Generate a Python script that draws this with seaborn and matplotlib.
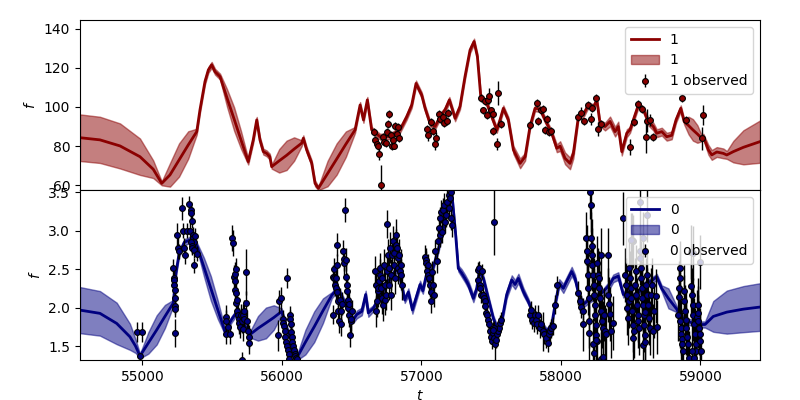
import numpy as np
import matplotlib
matplotlib.use('Agg')
import matplotlib.pyplot as plt
import seaborn as sns

# ---- channel 1 (top): posterior mean / band half width on a time grid
t1_grid = [54552, 54695, 54839, 54982, 55077, 55138, 55197, 55262, 55328, 55389,
           55412, 55448, 55472, 55496, 55520, 55556, 55606, 55657, 55707, 55758,
           55794, 55819, 55842, 55866, 55890, 55913, 55926, 55980, 56033, 56087,
           56141, 56153, 56177, 56213, 56237, 56261, 56327, 56392, 56458, 56524,
           56560, 56584, 56612, 56643, 56703, 56774, 56846, 56894, 56930, 56961,
           57002, 57026, 57061, 57097, 57133, 57169, 57200, 57241, 57276, 57312,
           57348, 57377, 57401, 57425, 57468, 57504, 57540, 57563, 57587, 57623,
           57659, 57707, 57743, 57778, 57814, 57850, 57886, 57934, 57970, 57994,
           58029, 58065, 58089, 58125, 58160, 58196, 58232, 58257, 58280, 58316,
           58352, 58388, 58411, 58436, 58472, 58495, 58519, 58555, 58591, 58626,
           58662, 58687, 58723, 58758, 58794, 58825, 58859, 58883, 58915, 58946,
           58978, 59009, 59021, 59057, 59081, 59117, 59164, 59189, 59236, 59308,
           59427]
m1 = [84.3, 83.2, 80.1, 74.6, 68.2, 61.0, 65.3, 72.9, 80.6, 87.4,
      98.5, 113.0, 118.9, 121.5, 118.0, 115.5, 104.6, 93.8, 83.0, 72.1,
      83.2, 93.4, 83.2, 77.2, 76.3, 74.6, 69.5, 72.5, 75.3, 78.5,
      81.5, 84.0, 78.1, 71.3, 61.0, 58.5, 66.0, 73.4, 81.0, 88.3,
      101.0, 93.4, 103.6, 88.3, 84.8, 85.0, 88.3, 95.0, 101.0, 112.0,
      106.0, 99.3, 91.7, 90.0, 95.0, 98.5, 103.6, 94.2, 100.2, 115.5,
      129.0, 133.4, 125.7, 105.3, 102.0, 95.0, 88.3, 93.4, 99.3, 93.4,
      78.1, 71.2, 74.6, 90.0, 99.3, 99.0, 93.4, 86.6, 78.9, 80.0,
      73.8, 71.2, 76.3, 95.0, 96.0, 101.0, 99.8, 103.6, 91.7, 90.0,
      92.6, 87.4, 90.0, 77.2, 86.6, 88.3, 93.4, 101.0, 98.5, 92.6,
      90.0, 86.6, 87.4, 84.8, 85.5, 93.4, 99.3, 92.6, 90.5, 88.3,
      86.2, 84.0, 84.8, 78.1, 75.5, 77.0, 76.3, 75.5, 77.2, 79.4,
      82.3]
hw1 = [11.9, 11.8, 11.5, 9.3, 4.5, 1.0, 6.0, 8.5, 7.0, 1.5,
       1.5, 1.5, 1.5, 1.5, 1.5, 1.5, 4.5, 6.0, 4.5, 1.5,
       1.5, 1.5, 1.5, 1.5, 1.5, 1.5, 1.0, 6.0, 7.5, 6.0,
       1.5, 1.5, 1.5, 1.5, 1.5, 1.0, 6.5, 8.0, 6.5, 1.5,
       1.5, 1.5, 1.5, 1.5, 1.5, 1.5, 1.5, 1.5, 1.5, 1.5,
       1.5, 1.5, 1.5, 1.5, 1.5, 1.5, 1.5, 1.5, 1.5, 1.5,
       1.5, 1.5, 1.5, 1.5, 1.5, 1.5, 1.5, 1.5, 1.5, 1.5,
       2.0, 2.5, 2.0, 1.5, 1.5, 1.5, 1.5, 1.5, 2.0, 2.5,
       3.0, 3.0, 2.5, 1.5, 1.5, 1.5, 1.5, 1.5, 1.5, 2.0,
       2.5, 2.5, 2.5, 2.0, 2.0, 1.5, 1.5, 1.5, 1.5, 2.0,
       2.0, 2.0, 2.0, 2.0, 2.0, 1.5, 1.5, 1.5, 4.5, 5.5,
       4.5, 1.5, 1.5, 2.5, 2.5, 2.5, 2.5, 2.0, 5.5, 8.7,
       10.8]

# ---- channel 1 observations
t1_obs = [56660, 56667, 56679, 56691, 56698, 56712, 56722, 56732, 56746, 56755,
          56760, 56769, 56780, 56787, 56798, 56805, 56813, 56823, 56834, 56841,
          57038, 57049, 57069, 57081, 57099, 57104, 57126, 57133, 57152, 57162,
          57185, 57193,
          57427, 57443, 57456, 57468, 57479, 57487, 57497, 57515, 57511, 57544,
          57551, 57570,
          57778, 57831, 57838, 57855, 57874, 57902, 57888, 57917, 57931,
          58125, 58144, 58166, 58196, 58214, 58225, 58252, 58268, 58285,
          58495, 58524, 58555, 58584, 58610, 58619, 58639, 58658,
          58866, 58895, 59009, 59021]
f1_obs = [87.1, 83.2, 81.2, 79.9, 75.8, 60.2, 84.8, 82.3, 81.8, 87.4,
          91.3, 96.4, 85.7, 80.1, 83.2, 80.3, 90.3, 86.2, 89.6, 84.0,
          88.6, 85.7, 92.3, 87.9, 81.2, 84.0, 96.4, 93.7, 95.0, 92.0,
          93.0, 96.8,
          104.4, 98.2, 102.8, 96.0, 103.6, 105.6, 98.2, 96.3, 87.8, 81.0,
          107.0, 91.2,
          90.8, 102.2, 92.9, 98.2, 98.9, 93.7, 88.3, 87.0, 87.8,
          95.0, 96.8, 92.6, 101.0, 93.9, 99.3, 104.4, 88.6, 91.2,
          79.4, 92.1, 101.5, 98.9, 84.5, 93.0, 93.4, 84.5,
          104.4, 93.4, 84.0, 96.0]
e1_obs = [2, 2, 2, 2, 3, 10, 2, 2, 2, 2,
          2, 2, 2, 2, 2, 2, 2, 2, 2, 2,
          2, 3, 2, 2, 3, 3, 2, 2, 2, 2,
          2, 2,
          2, 2, 2, 2, 2, 4, 2, 2, 2, 3,
          6, 2,
          2, 2, 2, 2, 2, 2, 2, 2, 2,
          2, 3, 2, 2, 3, 2, 2, 3.5, 2,
          4, 2, 2, 2, 8, 6, 3, 2,
          2, 2, 6, 5]

# ---- channel 0 (bottom): posterior mean / band half width
t0_grid = [54552, 54695, 54815, 54910, 54950, 54982, 55042, 55102, 55161, 55221,
           55240, 55262, 55300, 55340, 55389, 55440, 55490, 55540, 55591, 55640,
           55680, 55720, 55771, 55828, 55885, 55941, 55998, 56030, 56060, 56105,
           56168, 56231, 56294, 56357, 56400, 56440, 56480, 56511, 56536, 56572,
           56600, 56619, 56655, 56700, 56751, 56800, 56830, 56858, 56880, 56906,
           56935, 56965, 56990, 57010, 57038, 57080, 57120, 57160, 57190, 57217,
           57245, 57264, 57288, 57312, 57336, 57372, 57396, 57415, 57444, 57479,
           57515, 57551, 57575, 57611, 57647, 57671, 57695, 57730, 57766, 57814,
           57862, 57898, 57934, 57958, 57988, 58017, 58041, 58077, 58101, 58125,
           58160, 58200, 58250, 58300, 58350, 58375, 58411, 58447, 58480, 58520,
           58560, 58600, 58650, 58687, 58722, 58770, 58830, 58850, 58900, 58950,
           59000, 59033, 59092, 59189, 59308, 59427]
m0 = [1.967, 1.925, 1.794, 1.62, 1.50, 1.37, 1.54, 1.71, 1.885, 2.06,
      2.45, 2.70, 2.85, 2.88, 2.81, 2.53, 2.25, 1.97, 1.69, 1.85,
      1.95, 1.80, 1.65, 1.73, 1.80, 1.87, 1.95, 1.75, 1.60, 1.34,
      1.55, 1.75, 1.96, 2.16, 2.25, 2.10, 1.95, 1.84, 1.91, 1.95,
      2.17, 1.93, 1.99, 2.15, 2.30, 2.45, 2.50, 2.30, 2.10, 2.20,
      1.97, 2.15, 2.30, 2.22, 2.45, 2.50, 2.75, 3.05, 3.35, 3.50,
      2.95, 2.51, 2.45, 2.38, 2.30, 2.12, 2.25, 2.47, 2.38, 2.12,
      1.86, 1.69, 1.82, 2.17, 2.36, 2.30, 2.38, 2.21, 2.08, 1.86,
      1.78, 1.69, 1.78, 2.04, 2.32, 2.25, 2.34, 2.47, 2.38, 2.19,
      2.04, 2.10, 2.15, 2.20, 2.30, 2.38, 2.41, 2.17, 2.20, 2.15,
      2.20, 2.30, 2.35, 2.40, 2.25, 2.12, 1.98, 1.90, 1.82, 1.80,
      1.78, 1.78, 1.885, 1.941, 1.98, 2.007]
hw0 = [0.30, 0.29, 0.27, 0.17, 0.09, 0.03, 0.14, 0.19, 0.15, 0.04,
       0.04, 0.04, 0.04, 0.04, 0.04, 0.12, 0.16, 0.12, 0.04, 0.04,
       0.04, 0.04, 0.04, 0.16, 0.20, 0.16, 0.04, 0.04, 0.04, 0.03,
       0.16, 0.20, 0.16, 0.04, 0.04, 0.04, 0.04, 0.04, 0.05, 0.05,
       0.05, 0.05, 0.04, 0.04, 0.04, 0.04, 0.04, 0.04, 0.04, 0.05,
       0.05, 0.05, 0.05, 0.04, 0.04, 0.04, 0.04, 0.04, 0.04, 0.04,
       0.04, 0.04, 0.05, 0.05, 0.05, 0.05, 0.04, 0.04, 0.04, 0.04,
       0.04, 0.04, 0.05, 0.05, 0.06, 0.06, 0.06, 0.05, 0.04, 0.04,
       0.04, 0.04, 0.04, 0.04, 0.05, 0.06, 0.06, 0.06, 0.05, 0.04,
       0.04, 0.04, 0.04, 0.04, 0.05, 0.05, 0.05, 0.04, 0.04, 0.04,
       0.04, 0.04, 0.04, 0.04, 0.04, 0.13, 0.04, 0.04, 0.04, 0.04,
       0.04, 0.04, 0.20, 0.28, 0.30, 0.31]

# ---- channel 0 observations
t0_obs = [54963, 54982, 54999,
          55221, 55224, 55226, 55228, 55230, 55231, 55232, 55234, 55236, 55247,
          55255, 55262, 55285, 55290, 55300, 55305, 55320, 55336, 55345, 55350,
          55355, 55340, 55360, 55365, 55368, 55348, 55352, 55358, 55372, 55370,
          55380, 55389,
          55599, 55600, 55602, 55610, 55625, 55640, 55648, 55655, 55660, 55662,
          55665, 55668, 55670, 55672, 55676, 55680, 55684, 55690, 55695, 55700,
          55705, 55712, 55718, 55722, 55728, 55730, 55740, 55745, 55750, 55755,
          55760, 55765, 55711,
          55974, 55981, 55990, 56005, 56010, 56015, 56020, 56025, 56030, 56038,
          56035, 56040, 56048, 56055, 56058, 56062, 56065, 56070, 56075, 56080,
          56085, 56090, 56095, 56100, 56110, 56050,
          56364, 56368, 56372, 56376, 56380, 56384, 56388, 56392, 56395, 56398,
          56400, 56405, 56410, 56415, 56420, 56425, 56430, 56438, 56443, 56448,
          56452, 56456, 56460, 56463, 56467, 56472, 56476, 56480, 56484, 56488,
          56492, 56496, 56500,
          56667, 56672, 56676, 56680, 56685, 56690, 56695, 56700, 56705, 56710,
          56715, 56720, 56725, 56730, 56735, 56740, 56745, 56750, 56755, 56760,
          56765, 56770, 56775, 56780, 56785, 56790, 56795, 56800, 56805, 56810,
          56815, 56820, 56825, 56830, 56835, 56840, 56845, 56850, 56855, 56860,
          57026, 57030, 57035, 57040, 57045, 57050, 57055, 57060, 57065, 57070,
          57075, 57085, 57090, 57100, 57110, 57118, 57125, 57130, 57135, 57140,
          57148, 57155, 57162, 57168, 57175, 57185, 57195, 57200, 57210, 57215,
          57222, 57205,
          57522,
          57403, 57408, 57412, 57418, 57422, 57428, 57433, 57440, 57445, 57452,
          57458, 57462, 57468, 57475, 57482, 57490, 57498, 57505, 57512, 57520,
          57528, 57535, 57542, 57550, 57557, 57565, 57572, 57520, 57510,
          57778, 57785, 57795, 57805, 57812, 57820, 57828, 57835, 57850, 57860,
          57868, 57880, 57895, 57905, 57912, 57922, 57930, 57940, 57958, 57975,
          58125, 58135, 58145, 58155, 58160, 58180, 58185, 58188, 58192, 58195,
          58198, 58200, 58203, 58210, 58215, 58212, 58220, 58222, 58226, 58230,
          58234, 58238, 58242, 58246, 58250, 58254, 58258, 58232, 58240, 58248,
          58262, 58266, 58270, 58275, 58280, 58285, 58290, 58295, 58300, 58308,
          58315, 58325, 58335, 58340, 58345, 58350, 58360, 58370, 58290, 58305,
          58443,
          58460, 58465, 58470, 58475, 58480, 58485, 58490, 58495, 58500, 58505,
          58510, 58515, 58520, 58525, 58530, 58535, 58540, 58545, 58550, 58555,
          58560, 58565, 58568, 58572, 58576, 58580, 58584, 58588, 58592, 58596,
          58600, 58605, 58610, 58615, 58620, 58625, 58632, 58640, 58648, 58655,
          58590, 58520, 58510, 58500, 58567, 58620, 58585, 58600, 58660, 58670,
          58680, 58690,
          58842, 58845, 58848, 58850, 58853, 58856, 58860, 58863, 58866, 58870,
          58874, 58880, 58885, 58890, 58895, 58900, 58905, 58910, 58915, 58930,
          58935, 58940, 58945, 58950, 58955, 58960, 58965, 58970, 58975, 58980,
          58985, 58990, 58995, 59000, 58985, 59005, 58940, 58955, 59000, 58949]
f0_obs = [1.68, 1.37, 1.68,
          2.51, 2.39, 2.36, 2.30, 2.23, 2.13, 2.02, 1.98, 1.67, 2.95,
          2.78, 2.73, 3.29, 3.00, 2.78, 2.69, 3.00, 3.35, 3.27, 3.23,
          3.13, 3.00, 2.95, 2.90, 2.85, 2.85, 2.80, 2.78, 2.75, 2.55,
          2.93, 2.70,
          1.88, 1.82, 1.65, 1.75, 1.65, 2.90, 2.84, 2.40, 2.35, 2.44,
          2.23, 2.19, 2.50, 2.06, 1.96, 2.10, 1.90, 1.85, 1.80, 1.75,
          1.90, 1.82, 1.90, 1.72, 1.85, 1.95, 2.46, 2.06, 1.82, 1.70,
          1.62, 1.54, 1.32,
          1.64, 2.08, 2.12, 1.85, 1.80, 1.76, 1.70, 1.62, 1.55, 2.38,
          1.50, 1.45, 1.40, 1.90, 1.85, 1.78, 1.68, 1.62, 1.55, 1.50,
          1.45, 1.40, 1.37, 1.34, 1.33, 1.33,
          1.91, 2.40, 2.50, 2.38, 2.30, 2.25, 2.38, 2.82, 2.55, 2.20,
          2.08, 1.95, 1.82, 2.10, 1.78, 1.96, 2.05, 2.73, 2.63, 2.58,
          3.27, 2.62, 2.40, 2.30, 2.22, 2.10, 1.99, 2.05, 1.90, 1.64,
          1.82, 1.85, 1.95,
          2.47, 1.95, 2.30, 2.08, 2.21, 2.25, 2.34, 2.51, 2.43, 2.25,
          2.12, 2.38, 2.03, 2.56, 2.30, 2.10, 2.17, 2.47, 3.09, 2.69,
          2.51, 2.30, 2.78, 2.43, 2.17, 2.69, 2.86, 2.56, 2.71, 2.38,
          2.95, 2.82, 2.78, 2.64, 2.51, 2.69, 2.47, 2.56, 2.43, 2.30,
          2.66, 2.62, 2.58, 2.48, 2.55, 2.42, 2.38, 2.29, 2.20, 2.08,
          2.46, 2.29, 2.16, 2.73, 2.60, 2.86, 3.03, 2.94, 3.16, 3.25,
          2.99, 3.27, 3.34, 3.12, 3.20, 3.38, 3.47, 3.29, 3.51, 3.16,
          3.07, 3.42,
          3.11,
          2.49, 2.36, 2.51, 2.30, 2.25, 2.16, 2.47, 2.16, 2.12, 2.08,
          2.02, 1.93, 1.91, 1.84, 1.78, 1.69, 1.62, 1.56, 1.67, 1.60,
          1.52, 1.58, 1.65, 1.69, 1.73, 1.80, 1.84, 1.73, 1.71,
          1.91, 1.97, 1.84, 1.80, 1.91, 1.84, 1.78, 1.91, 1.73, 1.78,
          1.69, 1.65, 1.60, 1.54, 1.65, 1.69, 1.73, 1.76, 2.04, 2.29,
          2.19, 2.08, 2.01, 1.95, 1.78, 2.90, 2.73, 2.60, 2.43, 2.26,
          2.12, 1.67, 1.82, 3.50, 3.34, 2.90, 2.80, 2.69, 2.56, 2.43,
          2.30, 2.17, 2.04, 1.91, 1.77, 1.64, 1.56, 1.52, 1.41, 1.58,
          2.58, 2.43, 2.26, 2.38, 2.12, 2.69, 1.95, 1.82, 1.73, 1.91,
          1.69, 1.65, 2.68, 2.16, 2.05, 1.92, 1.70, 1.80, 1.33, 1.36,
          3.16,
          2.42, 2.29, 2.16, 1.99, 1.86, 2.08, 2.51, 2.38, 2.25, 2.12,
          1.95, 1.77, 1.60, 1.69, 2.29, 2.47, 2.16, 2.03, 1.90, 1.82,
          1.73, 2.73, 2.64, 2.51, 2.38, 2.25, 2.12, 2.03, 1.90, 1.77,
          1.64, 1.94, 2.29, 2.42, 2.16, 2.03, 1.86, 1.73, 2.16, 2.29,
          2.90, 2.86, 2.88, 2.88, 3.38, 3.20, 1.51, 1.55, 1.70, 1.95,
          2.15, 1.75,
          1.91, 2.25, 2.14, 2.51, 2.38, 1.82, 1.73, 1.65, 1.59, 1.52,
          1.43, 2.21, 2.08, 1.95, 1.84, 1.73, 1.62, 1.52, 1.35, 2.72,
          2.28, 2.17, 2.04, 1.91, 1.78, 1.65, 1.52, 1.43, 1.88, 1.93,
          1.82, 1.73, 1.65, 1.56, 2.03, 1.43, 1.43, 1.35, 2.59, 2.71]
e0_obs = [0.13, 0.04, 0.13,
          0.12, 0.10, 0.10, 0.10, 0.10, 0.10, 0.10, 0.10, 0.18, 0.15,
          0.15, 0.10, 0.15, 0.10, 0.12, 0.12, 0.10, 0.10, 0.10, 0.10,
          0.10, 0.10, 0.10, 0.10, 0.10, 0.10, 0.10, 0.10, 0.10, 0.10,
          0.10, 0.10,
          0.15, 0.15, 0.12, 0.12, 0.12, 0.17, 0.17, 0.15, 0.15, 0.15,
          0.15, 0.15, 0.15, 0.15, 0.15, 0.15, 0.15, 0.15, 0.15, 0.15,
          0.15, 0.15, 0.15, 0.15, 0.15, 0.15, 0.30, 0.15, 0.15, 0.15,
          0.15, 0.15, 0.10,
          0.20, 0.15, 0.15, 0.12, 0.12, 0.12, 0.12, 0.12, 0.12, 0.13,
          0.12, 0.12, 0.12, 0.12, 0.12, 0.12, 0.12, 0.12, 0.12, 0.12,
          0.12, 0.12, 0.12, 0.12, 0.12, 0.12,
          0.12, 0.15, 0.15, 0.15, 0.15, 0.15, 0.15, 0.15, 0.15, 0.15,
          0.15, 0.15, 0.15, 0.15, 0.15, 0.15, 0.15, 0.15, 0.15, 0.15,
          0.15, 0.15, 0.15, 0.15, 0.15, 0.15, 0.15, 0.15, 0.15, 0.15,
          0.15, 0.15, 0.15,
          0.20, 0.20, 0.20, 0.20, 0.20, 0.20, 0.20, 0.20, 0.20, 0.20,
          0.20, 0.20, 0.20, 0.20, 0.20, 0.20, 0.20, 0.20, 0.18, 0.20,
          0.20, 0.20, 0.20, 0.20, 0.20, 0.20, 0.20, 0.20, 0.20, 0.20,
          0.20, 0.20, 0.20, 0.20, 0.20, 0.20, 0.20, 0.20, 0.20, 0.20,
          0.15, 0.15, 0.15, 0.15, 0.15, 0.15, 0.15, 0.15, 0.15, 0.15,
          0.15, 0.15, 0.15, 0.15, 0.15, 0.15, 0.15, 0.15, 0.15, 0.15,
          0.15, 0.15, 0.15, 0.15, 0.15, 0.15, 0.15, 0.15, 0.15, 0.15,
          0.15, 0.15,
          0.42,
          0.10, 0.10, 0.10, 0.10, 0.10, 0.10, 0.10, 0.10, 0.10, 0.10,
          0.10, 0.10, 0.10, 0.10, 0.10, 0.10, 0.10, 0.10, 0.10, 0.10,
          0.20, 0.10, 0.10, 0.10, 0.10, 0.10, 0.10, 0.10, 0.10,
          0.12, 0.12, 0.12, 0.12, 0.12, 0.12, 0.12, 0.12, 0.12, 0.12,
          0.25, 0.12, 0.12, 0.12, 0.12, 0.12, 0.12, 0.12, 0.12, 0.12,
          0.15, 0.15, 0.15, 0.15, 0.35, 0.35, 0.35, 0.35, 0.35, 0.35,
          0.35, 0.35, 0.35, 0.35, 0.35, 0.35, 0.35, 0.35, 0.35, 0.35,
          0.35, 0.35, 0.35, 0.35, 0.35, 0.35, 0.35, 0.35, 0.35, 0.35,
          0.35, 0.35, 0.35, 0.35, 0.35, 0.35, 0.35, 0.35, 0.35, 0.35,
          0.35, 0.35, 0.35, 0.35, 0.35, 0.35, 0.35, 0.35, 0.35, 0.35,
          0.35,
          0.35, 0.35, 0.35, 0.35, 0.35, 0.35, 0.35, 0.35, 0.35, 0.35,
          0.35, 0.35, 0.35, 0.35, 0.35, 0.35, 0.35, 0.35, 0.35, 0.35,
          0.35, 0.35, 0.35, 0.35, 0.35, 0.35, 0.35, 0.35, 0.35, 0.35,
          0.35, 0.35, 0.35, 0.35, 0.35, 0.35, 0.35, 0.35, 0.35, 0.35,
          0.35, 0.35, 0.35, 0.35, 0.35, 0.35, 0.35, 0.35, 0.35, 0.35,
          0.35, 0.35,
          0.35, 0.35, 0.35, 0.35, 0.35, 0.35, 0.35, 0.35, 0.35, 0.35,
          0.35, 0.35, 0.35, 0.35, 0.35, 0.35, 0.35, 0.35, 0.35, 0.35,
          0.35, 0.35, 0.35, 0.35, 0.35, 0.35, 0.35, 0.35, 0.35, 0.35,
          0.35, 0.35, 0.35, 0.35, 0.35, 0.35, 0.35, 0.35, 0.35, 0.35]

assert len(t1_grid) == len(m1) == len(hw1)
assert len(t1_obs) == len(f1_obs) == len(e1_obs)
assert len(t0_grid) == len(m0) == len(hw0), (len(t0_grid), len(m0), len(hw0))
assert len(t0_obs) == len(f0_obs) == len(e0_obs), (len(t0_obs), len(f0_obs), len(e0_obs))


def draw_channel(ax, t_grid, mean, hw, t_obs, f_obs, e_obs, color, name):
    mean = np.asarray(mean)
    hw = np.asarray(hw)
    sns.lineplot(x=t_grid, y=mean, color=color, linewidth=2, label=name, ax=ax)
    ax.fill_between(t_grid, mean - hw, mean + hw, color=color, alpha=0.5, label=name)
    ax.errorbar(t_obs, f_obs, yerr=e_obs, fmt='o', color=color, mec='k', mew=0.8,
                ms=4.2, ecolor='k', elinewidth=1, label=name + ' observed')
    ax.set_ylabel('$f$')
    ax.legend(loc='upper right')


fig, (ax1, ax0) = plt.subplots(2, 1, sharex=True, figsize=(8, 4), dpi=100)
fig.subplots_adjust(left=0.1, right=0.95, top=0.95, bottom=0.1, hspace=0)

draw_channel(ax1, t1_grid, m1, hw1, t1_obs, f1_obs, e1_obs, 'darkred', '1')
draw_channel(ax0, t0_grid, m0, hw0, t0_obs, f0_obs, e0_obs, 'navy', '0')

ax1.set_ylim(57.6, 144.4)
ax0.set_ylim(1.318, 3.53)
ax0.set_xlim(54552, 59427)
ax0.set_xlabel('$t$')

plt.savefig('out.png', dpi=100)
